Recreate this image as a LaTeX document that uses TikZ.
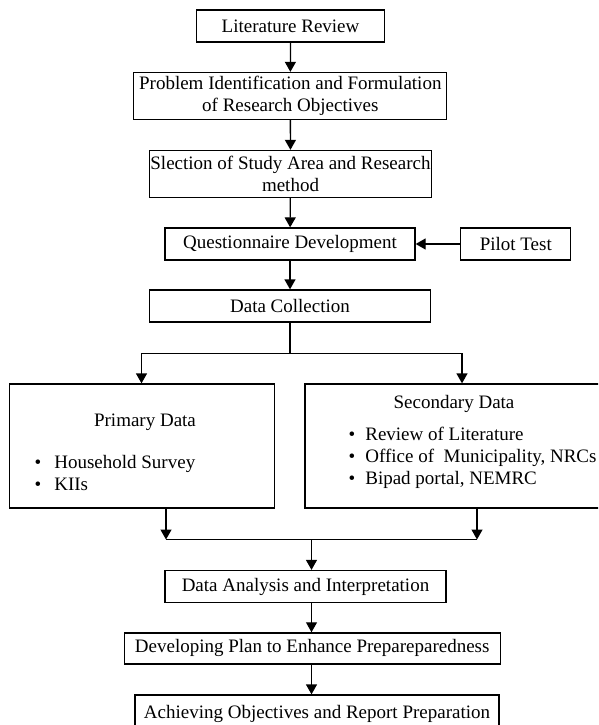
\documentclass[tikz,border=0pt]{standalone}
\usepackage{fontspec}
\setmainfont{Liberation Serif}
\usetikzlibrary{arrows.meta}

\begin{document}
\begin{tikzpicture}[x=1pt,y=-1pt]
        \tikzstyle{every node}=[font=\fontsize{19}{22}\selectfont, inner sep=0pt]
        \tikzstyle{stage}=[draw, line width=1.3pt, align=center]
        \tikzstyle{arr}=[-{Triangle[length=10pt,width=11pt]}, line width=1.3pt]

        \clip (0,0) rectangle (598,725);

        \node   (lit)   [stage, minimum width=188pt, minimum height=32pt] at (290.5,26) {Literature Review};
        \node   (prob)  [stage, minimum width=313pt, minimum height=47pt] at (290.3,96) {Problem Identification and Formulation\\of Research Objectives};
        \node   (sel)   [stage, minimum width=282pt, minimum height=47pt] at (290.5,174) {Slection of Study Area and Research\\method};
        \node   (quest) [stage, minimum width=250pt, minimum height=32pt] at (290,244) {Questionnaire Development};
        \node   (pilot) [stage, minimum width=110pt, minimum height=32pt] at (515.8,244) {Pilot Test};
        \node   (coll)  [stage, minimum width=281pt, minimum height=32pt] at (290,306) {Data Collection};
        \node   (prim)  [stage, minimum width=265pt, minimum height=124pt] at (142,446) {};
        \node   (sec)   [stage, minimum width=330pt, minimum height=124pt] at (470,446) {};
        \node   (ana)   [stage, minimum width=281pt, minimum height=32pt] at (305.5,586.5) {Data Analysis and Interpretation};
        \node   (dev)   [stage, minimum width=376pt, minimum height=31pt] at (312.2,648.4) {Developing Plan to Enhance Prepareparedness};
        \node   (ach)   [stage, minimum width=364pt, minimum height=38pt] at (317,714) {Achieving Objectives and Report Preparation};

        \node   (primtitle) at (145,422) {Primary Data};
        \node   (primlist)  [anchor=west, align=left] at (34.5,472.5)
                {\textbullet\hspace{13pt}Household Survey\\\textbullet\hspace{13pt}KIIs};
        \node   (sectitle)  at (454,403.5) {Secondary Data};
        \node   (seclist)   [anchor=west, align=left] at (348.5,457.5)
                {\textbullet\hspace{10pt}Review of Literature\\\textbullet\hspace{10pt}Office of~ Municipality, NRCs\\\textbullet\hspace{10pt}Bipad portal, NEMRC};

        \coordinate (split) at (290,353.5);
        \coordinate (jl)    at (166,539.5);
        \coordinate (jr)    at (477,539.5);
        \coordinate (merge) at (311.5,539.5);

        \draw[arr] (lit) -- (prob);
        \draw[arr] (prob) -- (sel);
        \draw[arr] (sel) -- (quest);
        \draw[arr] (pilot) -- (quest);
        \draw[arr] (quest) -- (coll);
        \draw[line width=1.3pt] (coll) -- (split);
        \draw[arr] (split) -| ([xshift=-0.5pt]prim.north);
        \draw[arr] (split) -| ([xshift=-8pt]sec.north);
        \draw[arr] (prim.south -| jl) -- (jl);
        \draw[arr] (sec.south -| jr) -- (jr);
        \draw[line width=1.3pt] (jl) -- (jr);
        \draw[arr] (merge) -- (merge |- ana.north);
        \draw[arr] (merge |- ana.south) -- (merge |- dev.north);
        \draw[arr] (merge |- dev.south) -- (merge |- ach.north);

    \end{tikzpicture}
\end{document}
